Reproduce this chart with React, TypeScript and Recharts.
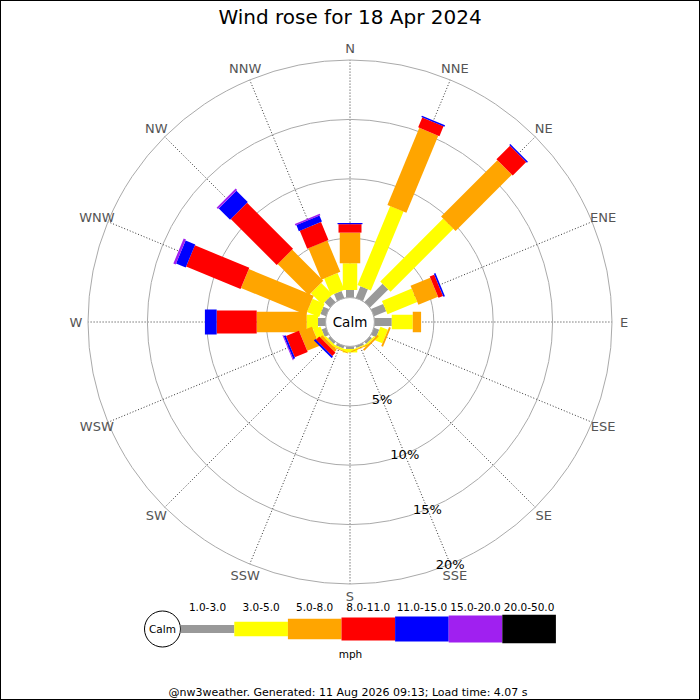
import React from 'react';
import { RadarChart, Radar, PolarGrid, PolarAngleAxis, PolarRadiusAxis } from 'recharts';

const directions = ['N', 'NNE', 'NE', 'ENE', 'E', 'ESE', 'SE', 'SSE', 'S', 'SSW', 'SW', 'WSW', 'W', 'WNW', 'NW', 'NNW'];
const speedBins = ['1.0-3.0', '3.0-5.0', '5.0-8.0', '8.0-11.0', '11.0-15.0', '15.0-20.0', '20.0-50.0'];
const binColors = ['#999999', '#ffff00', '#ffa500', '#ff0000', '#0000ff', '#a020f0', '#000000'];
const binWidths = [8, 14.5, 20.5, 23, 25, 27, 28.5];
const ringTicks = [0, 5, 10, 15, 20];

// % of time, per direction N..NNW, per speed bin (mph)
const bin1to3 = [0.64, 1.06, 2.16, 1.11, 1.46, 0.47, 0.22, 0.18, 0.22, 0.22, 0.22, 0.39, 0.64, 0.51, 0.64, 0.64];
const bin3to5 = [2.25, 7.2, 7.49, 2.71, 1.77, 0.68, 0.13, 0.08, 0.29, 0.17, 0.17, 0.67, 0.95, 1.1, 1.35, 1.52];
const bin5to8 = [2.58, 7.02, 6.7, 1.79, 0.7, 0.16, 0.16, 0.08, 0, 0.08, 0.25, 1.14, 4.21, 5.91, 3.71, 2.86];
const bin8to11 = [0.71, 0.9, 1.61, 0.41, 0, 0, 0, 0, 0, 0, 0.38, 1.18, 3.37, 4.96, 5.47, 1.64];
const bin11to15 = [0.1, 0.13, 0.12, 0.14, 0, 0, 0, 0, 0, 0, 0.17, 0.17, 0.99, 0.88, 1.35, 0.55];
const bin15to20 = [0, 0, 0, 0, 0, 0, 0, 0, 0, 0, 0, 0.08, 0, 0.21, 0.17, 0.13];
const bin20to50 = [0, 0, 0, 0, 0, 0, 0, 0, 0, 0, 0, 0, 0, 0, 0, 0];

const binSeries = [bin1to3, bin3to5, bin5to8, bin8to11, bin11to15, bin15to20, bin20to50];

const data = directions.map((dir, i) => {
  const row: any = { dir };
  let acc = 0;
  binSeries.forEach((arr, k) => {
    row[`lo${k}`] = acc;
    acc += arr[i];
    row[`hi${k}`] = acc;
  });
  return row;
});

const INNER = 24.4;
const OUTER = 262;
const FONT = 'DejaVu Sans';

const makeBarShape = (k: number) => (props: any) => {
  const points = props.points || [];
  const w = binWidths[k];
  return (
    <g>
      {points.map((p: any, i: number) => {
        const lo = p.payload[`lo${k}`];
        const hi = p.payload[`hi${k}`];
        if (!(hi - lo > 0) || !(p.radius > INNER)) return null;
        const perUnit = (p.radius - INNER) / hi;
        const r1 = INNER + lo * perUnit;
        const r2 = p.radius;
        const ux = (p.x - p.cx) / p.radius;
        const uy = (p.y - p.cy) / p.radius;
        const nx = (-uy * w) / 2;
        const ny = (ux * w) / 2;
        const ax = p.cx + ux * r1;
        const ay = p.cy + uy * r1;
        const bx = p.cx + ux * r2;
        const by = p.cy + uy * r2;
        const d = `M${ax + nx},${ay + ny}L${bx + nx},${by + ny}L${bx - nx},${by - ny}L${ax - nx},${ay - ny}Z`;
        return <path key={i} d={d} fill={binColors[k]} stroke="none" />;
      })}
      {k === 0 && points.length > 0 ? (
        <g>
          <circle cx={points[0].cx} cy={points[0].cy} r={INNER} fill="#ffffff" stroke="#aaaaaa" strokeWidth={1} />
          <text x={points[0].cx} y={points[0].cy} textAnchor="middle" dominantBaseline="central" fontSize={13.5} fontFamily={FONT} fill="#000">
            Calm
          </text>
        </g>
      ) : null}
    </g>
  );
};

const AngleTick = (p: any) => (
  <text x={p.x} y={p.y} textAnchor="middle" dominantBaseline="central" fill="#555555" fontSize={13} fontFamily={FONT}>
    {p.payload.value}
  </text>
);

const RadiusTick = (p: any) => {
  if (!p.payload || p.payload.value === 0) return <g />;
  return (
    <text x={p.x} y={p.y} textAnchor="middle" dominantBaseline="central" fill="#000000" fontSize={13} fontFamily={FONT}>
      {`${p.payload.value}%`}
    </text>
  );
};

export default function App() {
  const legendX0 = 180.7;
  const legendStep = 53.6;
  const legendY = 629;
  return (
    <div style={{ position: 'absolute', left: 0, top: 0, width: 700, height: 700, background: '#fff' }}>
      <div style={{ position: 'absolute', left: 0, top: 0 }}>
        <RadarChart
          width={700}
          height={700}
          data={data}
          cx={350}
          cy={322}
          innerRadius={INNER}
          outerRadius={OUTER}
          margin={{ top: 0, right: 0, bottom: 0, left: 0 }}
        >
          <PolarGrid gridType="circle" polarRadius={[]} radialLines stroke="#333333" strokeDasharray="1 2" strokeWidth={1} />
          <PolarGrid gridType="circle" radialLines={false} stroke="#aaaaaa" strokeWidth={1} />
          <PolarAngleAxis dataKey="dir" axisLine={false} tickLine={false} tickSize={12} tick={AngleTick} />
          <PolarRadiusAxis
            angle={-67.5}
            domain={[0, 20]}
            type="number"
            ticks={ringTicks as any}
            tickCount={5}
            axisLine={false}
            tick={RadiusTick}
          />
          {binSeries.map((_, k) => (
            <Radar
              key={k}
              name={speedBins[k]}
              dataKey={`hi${k}`}
              fill={binColors[k]}
              stroke="none"
              dot={false}
              isAnimationActive={false}
              shape={makeBarShape(k)}
            />
          ))}
        </RadarChart>
      </div>
      <svg width={700} height={700} style={{ position: 'absolute', left: 0, top: 0, pointerEvents: 'none' }}>
        <text x={350} y={24} textAnchor="middle" fontSize={20} fontFamily={FONT} fill="#000">
          Wind rose for 18 Apr 2024
        </text>
        <circle cx={162.5} cy={legendY} r={18} fill="#fff" stroke="#000" strokeWidth={1} />
        <text x={162.5} y={legendY} textAnchor="middle" dominantBaseline="central" fontSize={10.5} fontFamily={FONT} fill="#000">
          Calm
        </text>
        {speedBins.map((label, k) => (
          <g key={label}>
            <rect
              x={legendX0 + k * legendStep}
              y={legendY - binWidths[k] / 2}
              width={legendStep}
              height={binWidths[k]}
              fill={binColors[k]}
            />
            <text
              x={legendX0 + k * legendStep + legendStep / 2}
              y={607}
              textAnchor="middle"
              dominantBaseline="central"
              fontSize={10.5}
              fontFamily={FONT}
              fill="#000"
            >
              {label}
            </text>
          </g>
        ))}
        <text x={350.5} y={653.5} textAnchor="middle" dominantBaseline="central" fontSize={10.5} fontFamily={FONT} fill="#000">
          mph
        </text>
        <text x={348} y={692} textAnchor="middle" dominantBaseline="central" fontSize={11} fontFamily={FONT} fill="#000">
          @nw3weather. Generated: 11 Aug 2026 09:13; Load time: 4.07 s
        </text>
      </svg>
      <div style={{ position: 'absolute', left: 0, top: 0, width: 700, height: 700, border: '1px solid #000', boxSizing: 'border-box', pointerEvents: 'none' }} />
    </div>
  );
}
